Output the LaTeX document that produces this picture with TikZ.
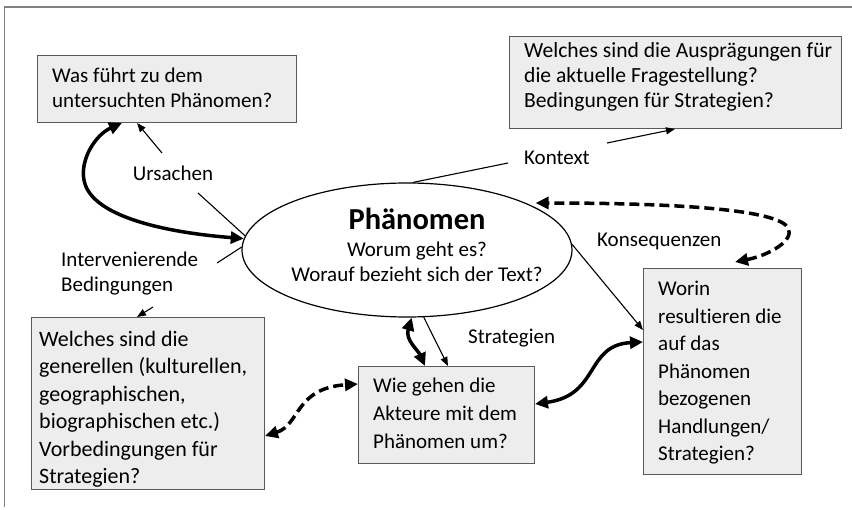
\documentclass[tikz,border=0pt]{standalone}
\usepackage{fontspec}
\setmainfont{Carlito}[Ligatures={NoCommon,NoContextual}]
\usetikzlibrary{arrows.meta,shapes.geometric}
\definecolor{boxfill}{HTML}{EDEDED}
\definecolor{boxdraw}{HTML}{595959}
\definecolor{framec}{HTML}{808080}
\begin{document}
\begin{tikzpicture}[x=1pt,y=-1pt,
  qbox/.style={draw=boxdraw, fill=boxfill, line width=1pt, inner sep=0pt, anchor=north west},
  qtxt/.style={inner sep=0pt, anchor=base west, align=left},
  lbl/.style={inner sep=0pt, font=\fontsize{21}{25}\selectfont},
  thinline/.style={line width=1.1pt, black},
  thinarrow/.style={thinline, -{Triangle[length=9pt,width=7pt]}},
  thickarrow/.style={line width=3.5pt, black, {Triangle[length=13pt,width=12pt]}-{Triangle[length=13pt,width=12pt]}},
  dasharrow/.style={thickarrow, dash pattern=on 10pt off 5pt}
]
\useasboundingbox (0,0) rectangle (852,510);
% frame
\draw[framec, line width=1.2pt] (852,7) -- (4.6,7) -- (4.6,507);

% boxes
\node[qbox, minimum width=259pt, minimum height=67pt] (b1) at (37,55) {};
\node[qbox, minimum width=332pt, minimum height=92pt] (b2) at (509,36) {};
\node[qbox, minimum width=233pt, minimum height=172pt] (b3) at (31,317) {};
\node[qbox, minimum width=176pt, minimum height=97pt] (b4) at (358,366) {};
\node[qbox, minimum width=158pt, minimum height=206pt] (b5) at (643,268) {};

% box texts (anchored at the baseline of their last line)
\node[qtxt, font=\fontsize{21}{25}\selectfont] (t1) at (52,107.5) {Was führt zu dem\\untersuchten Phänomen?};
\node[qtxt, font=\fontsize{21.6}{25}\selectfont] (t2) at (524,108) {Welches sind die Ausprägungen für\\die aktuelle Fragestellung?\\Bedingungen für Strategien?};
\node[qtxt, font=\fontsize{22}{27.6}\selectfont] (t3) at (39,484) {Welches sind die\\generellen (kulturellen,\\geographischen,\\biographischen etc.)\\Vorbedingungen für\\Strategien?};
\node[qtxt, font=\fontsize{21}{28}\selectfont] (t4) at (373,449) {Wie gehen die\\Akteure mit dem\\Phänomen um?};
\node[qtxt, font=\fontsize{21}{27.6}\selectfont] (t5) at (658,461) {Worin\\resultieren die\\auf das\\Phänomen\\bezogenen\\Handlungen/\\Strategien?};

% ellipse
\node[draw, ellipse, line width=1.2pt, minimum width=330pt, minimum height=134pt, inner sep=0pt] (ell) at (407,250) {};
\node[inner sep=0pt, anchor=base, font=\fontsize{30.5}{32}\selectfont\bfseries] (ph) at (417,230) {Phänomen};
\node[lbl, anchor=base] (q1) at (417,257) {Worum geht es?};
\node[lbl, anchor=base] (q2) at (417,282) {Worauf bezieht sich der Text?};

% labels
\node[lbl, anchor=base] (ursachen) at (173,181) {Ursachen};
\node[lbl, anchor=base west] (kontext) at (524,165) {Kontext};
\node[lbl, anchor=base west] (konseq) at (597,247) {Konsequenzen};
\node[lbl, anchor=base west, align=left] (interv) at (61,292) {Intervenierende\\Bedingungen};
\node[lbl, anchor=base west] (strat) at (468,344) {Strategien};

% free ends
\coordinate (u1) at (162,153);
\coordinate (u2) at (198,193);
\coordinate (i1) at (217,263);
\coordinate (i2) at (153,307);
\coordinate (k1) at (508,163);
\coordinate (k2) at (607,143);

% Ursachen
\draw[thinarrow] (u1) -- ([xshift=100pt]b1.south west);
\draw[thinline] (u2) -- (ell.175);
\draw[thickarrow] ([xshift=85pt]b1.south west) .. controls (95,135) and (80,160) .. (84,180)
   .. controls (90,215) and (160,232) .. (ell.176);
% Intervenierende
\draw[thinline] (ell.179) -- (i1);
\draw[thinarrow] (i2) -- ([xshift=106pt]b3.north west);
% Kontext
\draw[thinline] (ell.85) -- (k1);
\draw[thinarrow] (k2) -- ([xshift=166pt]b2.south west);
% Konsequenzen
\draw[thinarrow] (ell.2) -- ([yshift=-62pt]b5.north west);
\draw[dasharrow] ([xshift=92pt,yshift=6pt]b5.north west) .. controls (770,255) and (795,240) .. (788,228)
   .. controls (780,212) and (700,203) .. ([xshift=5pt,yshift=2pt]ell.20);
% Strategien
\draw[thinarrow] (ell.-76) -- ([xshift=90pt]b4.north west);
\draw[thickarrow] ([xshift=67pt]b4.north west) .. controls (418,350) and (405,340) .. (ell.-86);
\draw[thickarrow] ([yshift=-38pt]b4.north east) .. controls (600,395) and (585,345) .. ([yshift=-74pt]b5.north west);
\draw[dasharrow] ([yshift=-119pt]b3.north east) .. controls (300,425) and (295,388) .. ([yshift=-18pt]b4.north west);
\end{tikzpicture}
\end{document}
